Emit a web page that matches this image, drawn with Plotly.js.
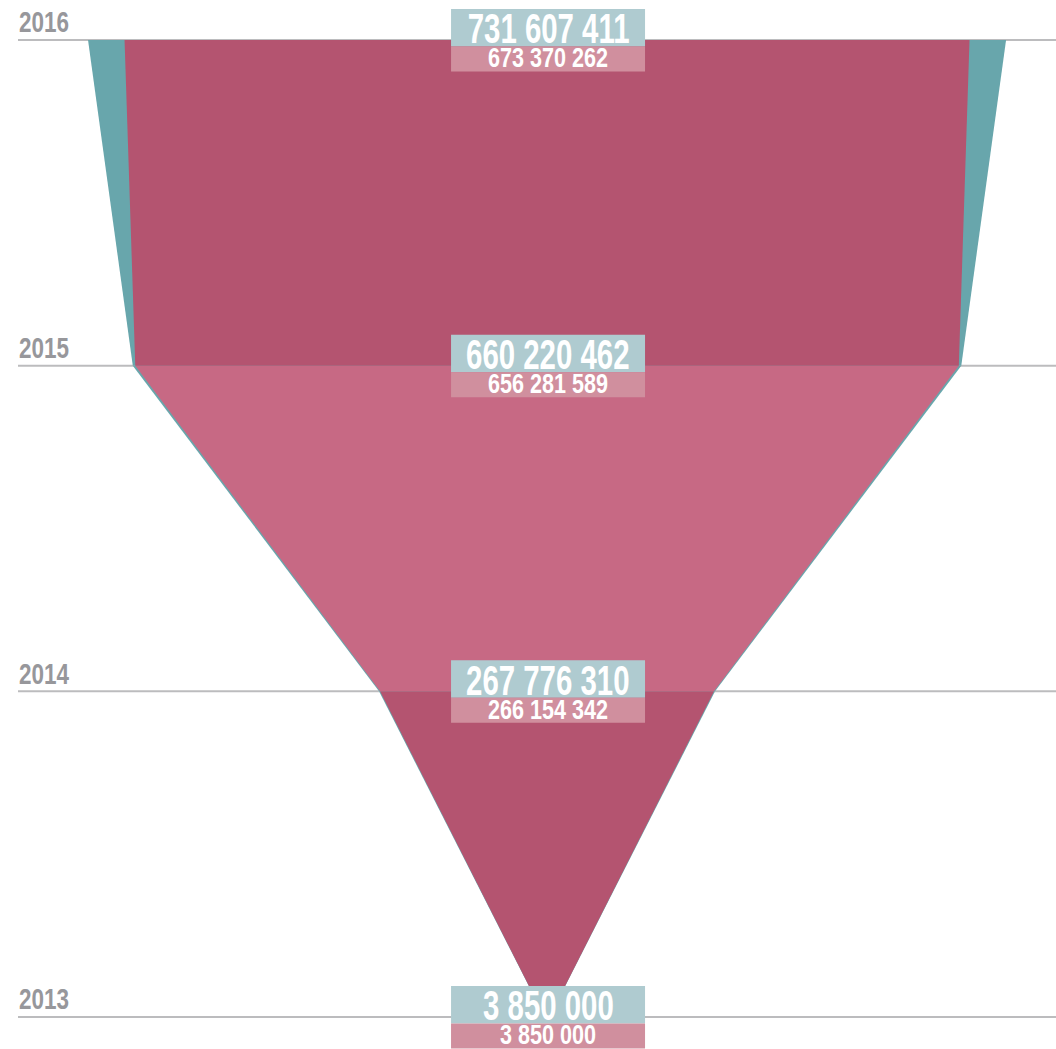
<!DOCTYPE html>
<html>
<head>
<meta charset="utf-8">
<script src="https://cdn.plot.ly/plotly-3.0.1.min.js"></script>
<style>html,body{margin:0;padding:0;background:#fff;}#chart{width:1056px;height:1049px;}</style>
</head>
<body>
<div id="chart"></div>
<script>
const years = [2013, 2014, 2015, 2016];
const tealValues = [3850000, 267776310, 660220462, 731607411];
const pinkValues = [3850000, 266154342, 656281589, 673370262];
const tealLabels = ["3 850 000", "267 776 310", "660 220 462", "731 607 411"];
const pinkLabels = ["3 850 000", "266 154 342", "656 281 589", "673 370 262"];

const TEAL = "#68a6ac";
const PINK_DARK = "#b45470";
const PINK_LIGHT = "#c76984";
const FONT = "'Liberation Sans', Arial, sans-serif";

function segment(vals, i, color) {
  const a = vals[i] / 2, b = vals[i + 1] / 2;
  return {
    type: "scatter", mode: "lines",
    x: [-a, a, b, -b, -a],
    y: [years[i], years[i], years[i + 1], years[i + 1], years[i]],
    fill: "toself", fillcolor: color,
    line: {width: 0, color: color},
    hoverinfo: "skip", showlegend: false
  };
}

const traces = [];
for (let i = 0; i < years.length - 1; i++) traces.push(segment(tealValues, i, TEAL));
for (let i = 0; i < years.length - 1; i++) traces.push(segment(pinkValues, i, i % 2 === 1 ? PINK_LIGHT : PINK_DARK));

const shapes = [];
years.forEach(y => {
  shapes.push({
    type: "line", xref: "paper", x0: 0, x1: 1, yref: "y", y0: y, y1: y,
    line: {color: "#bcbcbe", width: 2}, layer: "below"
  });
});
years.forEach(y => {
  shapes.push({
    type: "rect", xref: "x", xsizemode: "pixel", xanchor: 0, x0: -96, x1: 98,
    yref: "y", ysizemode: "pixel", yanchor: y, y0: -6.5, y1: 31,
    fillcolor: "#afcbd0", line: {width: 0}, layer: "above"
  });
  shapes.push({
    type: "rect", xref: "x", xsizemode: "pixel", xanchor: 0, x0: -96, x1: 98,
    yref: "y", ysizemode: "pixel", yanchor: y, y0: -31.5, y1: -6.5,
    fillcolor: "#d08f9e", line: {width: 0}, layer: "above"
  });
});

const annotations = [];
const scales = [];
years.forEach((y, i) => {
  annotations.push({
    x: 0, y: y, xref: "x", yref: "y", xanchor: "center", yanchor: "middle",
    xshift: 1, yshift: 11, text: tealLabels[i], showarrow: false, borderpad: 0,
    font: {family: FONT, size: 42, color: "#ffffff", weight: "bold"}
  });
  scales.push(0.70);
  annotations.push({
    x: 0, y: y, xref: "x", yref: "y", xanchor: "center", yanchor: "middle",
    xshift: 1, yshift: -18.5, text: pinkLabels[i], showarrow: false, borderpad: 0,
    font: {family: FONT, size: 27, color: "#ffffff", weight: "bold"}
  });
  scales.push(0.80);
  annotations.push({
    x: 0, y: y, xref: "paper", yref: "y", xanchor: "left", yanchor: "middle",
    yshift: 17.5, text: String(y), showarrow: false, borderpad: 0,
    font: {family: FONT, size: 29, color: "#97979b", weight: "bold"}
  });
  scales.push(-0.775);
});

const layout = {
  width: 1056, height: 1049,
  margin: {l: 18, r: 0, t: 0, b: 0, pad: 0},
  paper_bgcolor: "#ffffff", plot_bgcolor: "#ffffff",
  xaxis: {range: [-421.6e6, 405.6e6], visible: false, fixedrange: true},
  yaxis: {range: [2012.9017, 2016.1228], visible: false, fixedrange: true},
  shapes: shapes, annotations: annotations, showlegend: false, hovermode: false
};

Plotly.newPlot("chart", traces, layout, {displayModeBar: false, staticPlot: true}).then(gd => {
  gd.querySelectorAll("g.annotation").forEach(g => {
    const idx = +g.getAttribute("data-index");
    const s = scales[idx];
    const t = g.querySelector("text.annotation-text");
    if (!t || !s) return;
    const bb = t.getBBox();
    const sc = Math.abs(s);
    const p = s < 0 ? bb.x : bb.x + bb.width / 2;
    const prev = t.getAttribute("transform") || "";
    t.setAttribute("transform", `translate(${p},0) scale(${sc},1) translate(${-p},0) ` + prev);
  });
});
</script>
</body>
</html>
